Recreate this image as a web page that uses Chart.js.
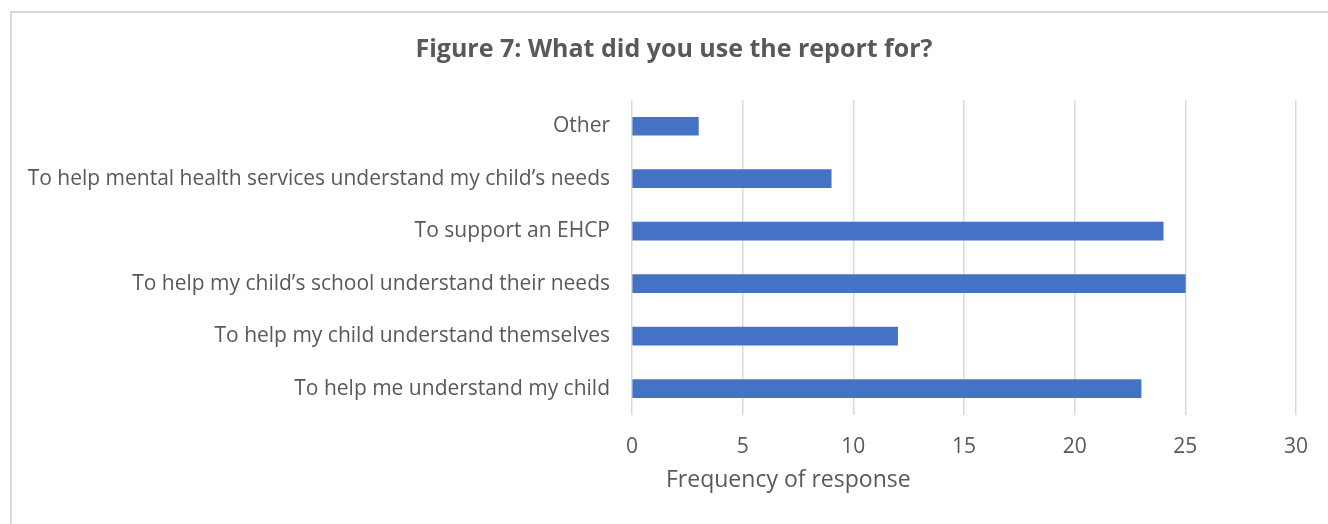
<!DOCTYPE html>
<html>
<head>
<meta charset="utf-8">
<script src="https://cdn.jsdelivr.net/npm/chart.js@4.4.1/dist/chart.umd.min.js"></script>
<style>
  html, body { margin: 0; padding: 0; background: #ffffff; overflow: hidden; }
  #frame {
    position: absolute; left: 10px; top: 11px;
    width: 1400px; height: 600px;
    border: 2px solid #d9d9d9; box-sizing: border-box;
  }
  #wrap { position: absolute; left: 0; top: 0; width: 1328px; height: 524px; }
</style>
</head>
<body>
<div id="frame"></div>
<div id="wrap"><canvas id="chart" width="1328" height="524"></canvas></div>
<script>
// Survey responses: what the report was used for
const categories = [
  'Other',
  'To help mental health services understand my child\u2019s needs',
  'To support an EHCP',
  'To help my child\u2019s school understand their needs',
  'To help my child understand themselves',
  'To help me understand my child'
];
const frequency = [3, 9, 24, 25, 12, 23];
const axisMin = 0;
const axisMax = 30;
const axisStep = 5;
const chartTitle = 'Figure 7: What did you use the report for?';
const xAxisTitle = 'Frequency of response';

const TEXT = '#595959';
const FONT = "'Open Sans', sans-serif";

// Chart heading and value-axis title, placed relative to the framed chart box
const headingsPlugin = {
  id: 'headings',
  afterDraw(chart) {
    const { ctx, chartArea } = chart;
    ctx.save();
    ctx.fillStyle = TEXT;
    ctx.textBaseline = 'middle';

    ctx.font = "bold 25px " + FONT;
    ctx.textAlign = 'center';
    ctx.fillText(chartTitle, 674, 50);

    ctx.font = "23px " + FONT;
    ctx.textAlign = 'left';
    ctx.fillText(xAxisTitle, chartArea.left + 34, 480);
    ctx.restore();
  }
};

new Chart(document.getElementById('chart'), {
  type: 'bar',
  data: {
    labels: categories,
    datasets: [{
      data: frequency,
      backgroundColor: '#4472C4',
      borderWidth: 0,
      barThickness: 18
    }]
  },
  options: {
    indexAxis: 'y',
    responsive: false,
    animation: false,
    layout: { padding: { left: 10, right: 32, top: 100, bottom: 44 } },
    plugins: {
      legend: { display: false },
      tooltip: { enabled: false },
      title: { display: false }
    },
    scales: {
      x: {
        min: axisMin,
        max: axisMax,
        ticks: {
          stepSize: axisStep,
          color: TEXT,
          font: { family: FONT, size: 21 },
          padding: 20
        },
        grid: { color: '#d9d9d9', lineWidth: 1.5, drawTicks: false },
        border: { display: false }
      },
      y: {
        ticks: {
          color: TEXT,
          font: { family: FONT, size: 21 },
          padding: 22
        },
        grid: { display: false, drawTicks: false },
        border: { display: false },
        afterFit(scale) { scale.width = 622; }
      }
    }
  },
  plugins: [headingsPlugin]
});
</script>
</body>
</html>
